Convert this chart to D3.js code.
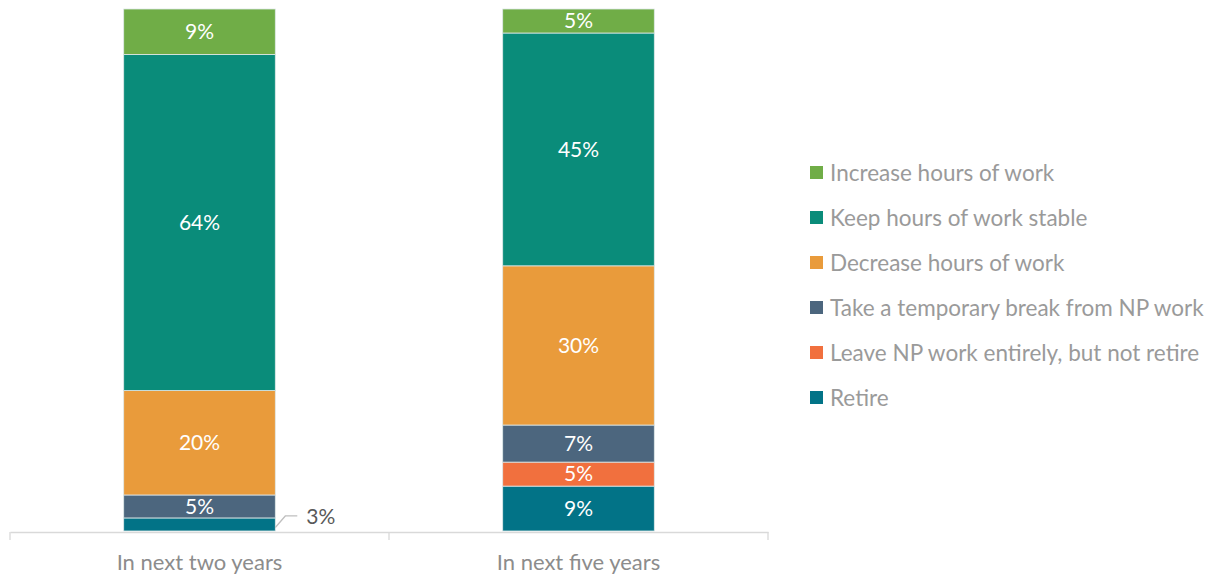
<!DOCTYPE html>
<html>
<head>
<meta charset="UTF-8">
<title>Work plans</title>
<script src="https://cdn.jsdelivr.net/npm/d3@7"></script>
<style>
  body { margin: 0; background: #fff; }
  svg { font-family: Lato, "Open Sans", sans-serif; }
</style>
</head>
<body>
<svg id="chart"></svg>
<script>
// data
var categories = ["In next two years", "In next five years"];
var seriesNames = ["Retire", "Leave NP work entirely, but not retire", "Take a temporary break from NP work",
                   "Decrease hours of work", "Keep hours of work stable", "Increase hours of work"];
var retire = [2.5, 8.6];
var leaveNP = [0, 4.6];
var tempBreak = [4.4, 7.1];
var decrease = [20.0, 30.5];
var keepStable = [64.4, 44.6];
var increase = [8.7, 4.6];
var labels = [["3%", "9%"], ["", "5%"], ["5%", "7%"], ["20%", "30%"], ["64%", "45%"], ["9%", "5%"]];
var colors = ["#027387", "#F1703E", "#4C667E", "#E99B3B", "#0A8C7A", "#70AD47"];

var seriesValues = [retire, leaveNP, tempBreak, decrease, keepStable, increase];

var W = 1209, H = 575;
var svg = d3.select("#chart").attr("width", W).attr("height", H);

var x = d3.scaleBand().domain(categories).range([10, 768]).paddingInner(0.6).paddingOuter(0.3);
var y = d3.scaleLinear().domain([0, 100]).range([531, 9]);

// build table for stacking
var table = categories.map(function (c, i) {
    var row = { cat: c };
    seriesNames.forEach(function (s, j) { row[s] = seriesValues[j][i]; });
    return row;
});
var stacked = d3.stack().keys(seriesNames)(table);

var layers = svg.append("g").selectAll("g")
    .data(stacked)
    .join("g")
    .attr("fill", function (d, i) { return colors[i]; });

layers.selectAll("rect")
    .data(function (d) { return d; })
    .join("rect")
    .attr("x", function (d) { return x(d.data.cat); })
    .attr("width", x.bandwidth())
    .attr("y", function (d) { return y(d[1]); })
    .attr("height", function (d) { return y(d[0]) - y(d[1]); })
    .attr("stroke", "#dfe8e8")
    .attr("stroke-width", function (d) { return d[1] - d[0] > 0 ? 0.8 : 0; });

// segment labels
stacked.forEach(function (layer, li) {
    layer.forEach(function (d, ci) {
        var txt = labels[li][ci];
        if (!txt) return;
        var h = d[1] - d[0];
        if (h < 4) {
            // small segment: label outside with leader
            var x0 = x(d.data.cat) + x.bandwidth();
            var ym = y((d[0] + d[1]) / 2);
            svg.append("polyline")
                .attr("points", [[x0, ym + 3], [x0 + 10, y(d[1]) - 2], [x0 + 22, y(d[1]) - 2]].join(" "))
                .attr("fill", "none")
                .attr("stroke", "#bfbfbf")
                .attr("stroke-width", 1.3);
            svg.append("text")
                .attr("x", x0 + 31)
                .attr("y", y(d[1]) - 1)
                .attr("dy", "0.35em")
                .attr("font-size", 21)
                .attr("fill", "#595959")
                .text(txt);
        } else {
            svg.append("text")
                .attr("x", x(d.data.cat) + x.bandwidth() / 2)
                .attr("y", y((d[0] + d[1]) / 2))
                .attr("dy", "0.35em")
                .attr("text-anchor", "middle")
                .attr("font-size", 21)
                .attr("fill", "#ffffff")
                .text(txt);
        }
    });
});

// x axis
var axis = svg.append("g")
    .attr("transform", "translate(0,532)")
    .call(d3.axisBottom(x).tickSize(0).tickPadding(22));
axis.select(".domain").attr("stroke", "#d9d9d9").attr("stroke-width", 1.3);
axis.selectAll("text").attr("font-size", 22).attr("fill", "#8c8c8c").attr("font-family", "Lato, sans-serif");
var edges = [x.range()[0], (x(categories[0]) + x(categories[1]) + x.bandwidth()) / 2, x.range()[1]];
axis.selectAll(".edge").data(edges).join("line")
    .attr("class", "edge")
    .attr("x1", function (d) { return d; }).attr("x2", function (d) { return d; })
    .attr("y1", 0).attr("y2", 8)
    .attr("stroke", "#d9d9d9").attr("stroke-width", 1.3);

// legend
var legendOrder = seriesNames.slice().reverse();
var legend = svg.append("g").attr("transform", "translate(810,173)");
var items = legend.selectAll("g").data(legendOrder).join("g")
    .attr("transform", function (d, i) { return "translate(0," + (i * 45) + ")"; });
items.append("rect")
    .attr("x", 0).attr("y", -7).attr("width", 13).attr("height", 13)
    .attr("fill", function (d) { return colors[seriesNames.indexOf(d)]; });
items.append("text")
    .attr("x", 20).attr("dy", "0.35em")
    .attr("font-size", 22.5)
    .attr("fill", "#9a9a9a")
    .text(function (d) { return d; });
</script>
</body>
</html>
